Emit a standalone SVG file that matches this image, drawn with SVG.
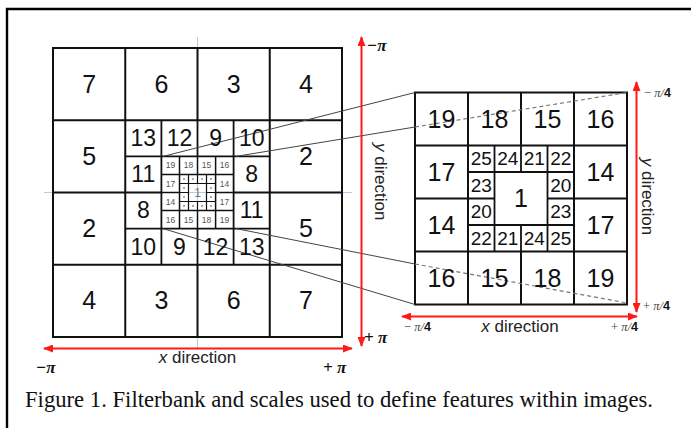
<svg xmlns="http://www.w3.org/2000/svg" width="691" height="428" viewBox="0 0 691 428">
<style>
.g1{fill:none;stroke:#111;stroke-width:2}
.g2{fill:none;stroke:#111;stroke-width:1.8}
.g3{fill:none;stroke:#111;stroke-width:1.5}
.g4{fill:none;stroke:#111;stroke-width:1.2}
.n1{font-family:"Liberation Sans",Arial,sans-serif;font-size:25px;fill:#111;text-anchor:middle}
.n2{font-family:"Liberation Sans",Arial,sans-serif;font-size:23px;fill:#111;text-anchor:middle}
.n3{font-family:"Liberation Sans",Arial,sans-serif;font-size:8.5px;fill:#555;text-anchor:middle}
.n4{font-family:"Liberation Sans",Arial,sans-serif;font-size:19px;fill:#111;text-anchor:middle}
.dot{fill:#aaa}
.conn{stroke:#444;stroke-width:1;fill:none}
.dash{stroke:#777;stroke-width:1.2;fill:none;stroke-dasharray:4 3}
.red{stroke:#ff1a1a;stroke-width:2;fill:none;marker-start:url(#arr);marker-end:url(#arr)}
.blue{stroke:#b3cbea;stroke-width:1}
.pi{font-family:"Liberation Serif","Times New Roman",serif;font-size:17px;font-weight:bold;font-style:italic;fill:#111}
.pi4{font-family:"Liberation Serif","Times New Roman",serif;font-size:12.5px;fill:#444}
.dir{font-family:"Liberation Sans",Arial,sans-serif;font-size:17px;fill:#222;text-anchor:middle}
.cap{font-family:"Liberation Serif","Times New Roman",serif;font-size:22.5px;fill:#111}
</style>
<defs>
<marker id="arr" viewBox="0 0 10 8" refX="9" refY="4" markerWidth="10" markerHeight="8" markerUnits="userSpaceOnUse" orient="auto-start-reverse">
<path d="M0,0 L10,4 L0,8 z" fill="#ff1a1a"/>
</marker>
</defs>
<rect x="0" y="0" width="691" height="428" fill="#fff"/>
<path d="M7,430 V9 H693" fill="none" stroke="#000" stroke-width="2.4"/>

<g id="crosshair">
<line class="blue" x1="197.5" y1="37" x2="197.5" y2="348"/>
<line class="blue" x1="44" y1="192.5" x2="352" y2="192.5"/>
</g>

<g id="left-grid">
<rect class="g1" x="53" y="48" width="289" height="289"/>
<path class="g1" d="M125.25,48V337 M269.75,48V337 M53,120.25H342 M53,264.75H342 M197.5,48V120.25 M197.5,264.75V337 M53,192.5H125.25 M269.75,192.5H342"/>
<path class="g2" d="M161.4,120.25V264.75 M233.6,120.25V264.75 M125.25,156.4H269.75 M125.25,228.6H269.75 M197.5,120.25V156.4 M197.5,228.6V264.75 M125.25,192.5H161.4 M233.6,192.5H269.75"/>
<path class="g3" d="M179.5,156.4V228.6 M215.6,156.4V228.6 M161.4,174.4H233.6 M161.4,210.6H233.6 M197.5,156.4V174.4 M197.5,210.6V228.6 M161.4,192.5H179.5 M215.6,192.5H233.6"/>
<path class="g4" d="M188.5,174.4V210.6 M206.5,174.4V210.6 M179.5,183.5H215.6 M179.5,201.5H215.6 M197.5,174.4V183.5 M197.5,201.5V210.6 M179.5,192.5H188.5 M206.5,192.5H215.6"/>
</g>

<g id="right-grid">
<rect class="g1" x="415" y="92.5" width="212" height="212"/>
<path class="g1" d="M468,92.5V304.5 M574,92.5V304.5 M415,145.5H627 M415,251.5H627 M521,92.5V145.5 M521,251.5V304.5 M415,198.5H468 M574,198.5H627"/>
<path class="g2" d="M494.5,145.5V251.5 M547.5,145.5V251.5 M468,172H574 M468,225H574 M521,145.5V172 M521,225V251.5 M468,198.5H494.5 M547.5,198.5H574"/>
</g>

<g id="connectors">
<line class="conn" x1="163" y1="156.4" x2="415" y2="92.5"/>
<line class="conn" x1="236" y1="156.4" x2="415" y2="127"/>
<line class="conn" x1="163" y1="228.6" x2="415" y2="304.5"/>
<line class="conn" x1="236" y1="228.6" x2="415" y2="264"/>
<line class="dash" x1="415" y1="127" x2="627" y2="92.5"/>
<line class="dash" x1="415" y1="264" x2="627" y2="303"/>
</g>

<g id="left-labels-1">
<text class="n1" x="89.1" y="92.6">7</text><text class="n1" x="161.4" y="92.6">6</text><text class="n1" x="233.6" y="92.6">3</text><text class="n1" x="305.9" y="92.6">4</text>
<text class="n1" x="89.1" y="164.9">5</text><text class="n1" x="305.9" y="164.9">2</text>
<text class="n1" x="89.1" y="237.1">2</text><text class="n1" x="305.9" y="237.1">5</text>
<text class="n1" x="89.1" y="309.4">4</text><text class="n1" x="161.4" y="309.4">3</text><text class="n1" x="233.6" y="309.4">6</text><text class="n1" x="305.9" y="309.4">7</text>
</g>
<g id="left-labels-2">
<text class="n2" x="143.3" y="146.1">13</text><text class="n2" x="179.5" y="146.1">12</text><text class="n2" x="215.6" y="146.1">9</text><text class="n2" x="251.7" y="146.1">10</text>
<text class="n2" x="143.3" y="182.2">11</text><text class="n2" x="251.7" y="182.2">8</text>
<text class="n2" x="143.3" y="218.4">8</text><text class="n2" x="251.7" y="218.4">11</text>
<text class="n2" x="143.3" y="254.5">10</text><text class="n2" x="179.5" y="254.5">9</text><text class="n2" x="215.6" y="254.5">12</text><text class="n2" x="251.7" y="254.5">13</text>
</g>
<g id="left-labels-3">
<text class="n3" x="170.4" y="168.4">19</text><text class="n3" x="188.5" y="168.4">18</text><text class="n3" x="206.5" y="168.4">15</text><text class="n3" x="224.6" y="168.4">16</text>
<text class="n3" x="170.4" y="186.5">17</text><text class="n3" x="224.6" y="186.5">14</text>
<text class="n3" x="170.4" y="204.5">14</text><text class="n3" x="224.6" y="204.5">17</text>
<text class="n3" x="170.4" y="222.6">16</text><text class="n3" x="188.5" y="222.6">15</text><text class="n3" x="206.5" y="222.6">18</text><text class="n3" x="224.6" y="222.6">19</text>
</g>
<g id="left-labels-4">
<rect class="dot" x="183" y="178" width="2" height="2"/><rect class="dot" x="192" y="178" width="2" height="2"/><rect class="dot" x="201" y="178" width="2" height="2"/><rect class="dot" x="210" y="178" width="2" height="2"/>
<rect class="dot" x="183" y="187" width="2" height="2"/><rect class="dot" x="210" y="187" width="2" height="2"/>
<rect class="dot" x="183" y="196" width="2" height="2"/><rect class="dot" x="210" y="196" width="2" height="2"/>
<rect class="dot" x="183" y="205" width="2" height="2"/><rect class="dot" x="192" y="205" width="2" height="2"/><rect class="dot" x="201" y="205" width="2" height="2"/><rect class="dot" x="210" y="205" width="2" height="2"/>
<text x="197.5" y="197" font-family="Liberation Sans, Arial, sans-serif" font-size="12" fill="#777" text-anchor="middle">1</text>
</g>

<g id="right-labels-1">
<text class="n1" x="441.5" y="127.5">19</text><text class="n1" x="494.5" y="127.5">18</text><text class="n1" x="547.5" y="127.5">15</text><text class="n1" x="600.5" y="127.5">16</text>
<text class="n1" x="441.5" y="180.5">17</text><text class="n1" x="600.5" y="180.5">14</text>
<text class="n1" x="441.5" y="233.5">14</text><text class="n1" x="600.5" y="233.5">17</text>
<text class="n1" x="441.5" y="286.5">16</text><text class="n1" x="494.5" y="286.5">15</text><text class="n1" x="547.5" y="286.5">18</text><text class="n1" x="600.5" y="286.5">19</text>
</g>
<g id="right-labels-2">
<text class="n4" x="481.25" y="165.2">25</text><text class="n4" x="507.75" y="165.2">24</text><text class="n4" x="534.25" y="165.2">21</text><text class="n4" x="560.75" y="165.2">22</text>
<text class="n4" x="481.25" y="191.7">23</text><text class="n4" x="560.75" y="191.7">20</text>
<text class="n4" x="481.25" y="218.2">20</text><text class="n4" x="560.75" y="218.2">23</text>
<text class="n4" x="481.25" y="244.7">22</text><text class="n4" x="507.75" y="244.7">21</text><text class="n4" x="534.25" y="244.7">24</text><text class="n4" x="560.75" y="244.7">25</text>
<text class="n1" x="521" y="207">1</text>
</g>

<g id="left-axes">
<line class="red" x1="361.5" y1="37" x2="361.5" y2="346"/>
<line class="red" x1="44" y1="348.5" x2="352" y2="348.5"/>
<text class="pi" x="367" y="51">−π</text>
<text class="pi" x="364" y="343">+ π</text>
<text class="pi" x="36" y="373">−π</text>
<text class="pi" x="323" y="373">+ π</text>
<text class="dir" x="197.5" y="363"><tspan font-style="italic">x</tspan> direction</text>
<text class="dir" transform="translate(374.5,181.7) rotate(90)"><tspan font-style="italic">y</tspan> direction</text>
</g>

<g id="right-axes">
<line class="red" x1="636.5" y1="82" x2="636.5" y2="312"/>
<line class="red" x1="402" y1="316.5" x2="637" y2="316.5"/>
<text class="pi4" x="644" y="97">− <tspan font-style="italic">π/</tspan><tspan font-family="Liberation Sans, Arial, sans-serif" font-weight="bold" fill="#111">4</tspan></text>
<text class="pi4" x="643" y="310">+ <tspan font-style="italic">π/</tspan><tspan font-family="Liberation Sans, Arial, sans-serif" font-weight="bold" fill="#111">4</tspan></text>
<text class="pi4" x="404" y="331">− <tspan font-style="italic">π/</tspan><tspan font-family="Liberation Sans, Arial, sans-serif" font-weight="bold" fill="#111">4</tspan></text>
<text class="pi4" x="611" y="331">+ <tspan font-style="italic">π/</tspan><tspan font-family="Liberation Sans, Arial, sans-serif" font-weight="bold" fill="#111">4</tspan></text>
<text class="dir" x="520" y="332"><tspan font-style="italic">x</tspan> direction</text>
<text class="dir" transform="translate(641.5,196.5) rotate(90)"><tspan font-style="italic">y</tspan> direction</text>
</g>

<g id="caption">
<text class="cap" x="25" y="407" textLength="628" lengthAdjust="spacingAndGlyphs">Figure 1. Filterbank and scales used to define features within images.</text>
</g>
</svg>
